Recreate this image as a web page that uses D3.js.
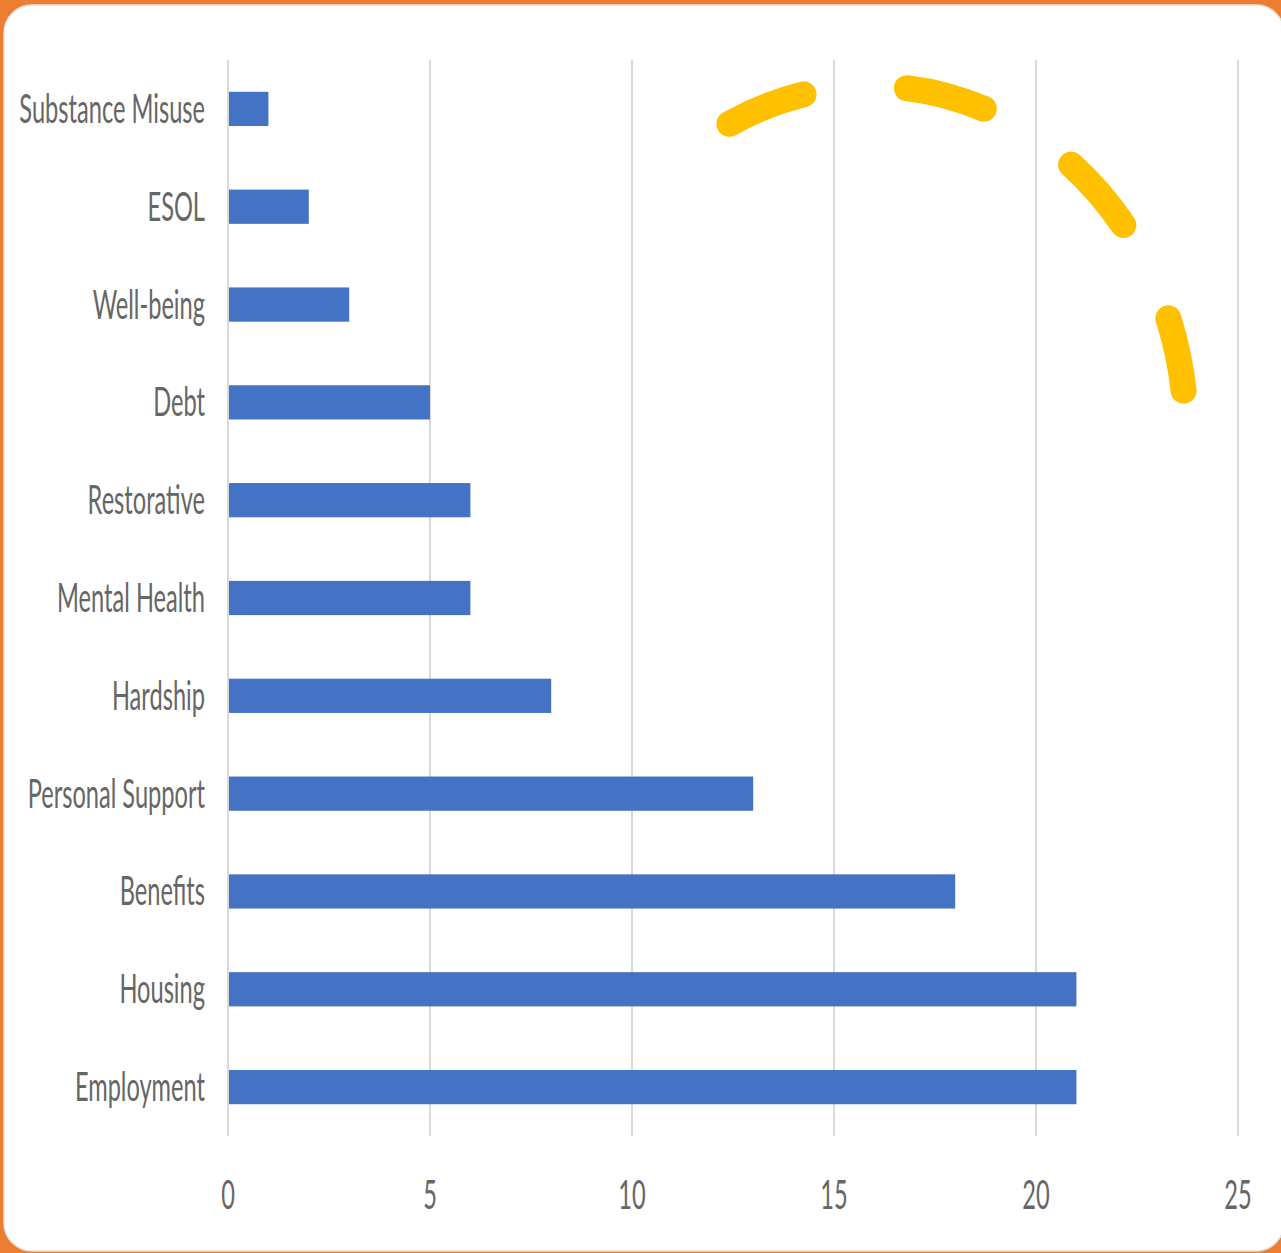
<!DOCTYPE html>
<html>
<head>
<meta charset="utf-8">
<script src="https://cdn.jsdelivr.net/npm/d3@7"></script>
<style>
  html, body { margin: 0; padding: 0; background: #ED7D31; }
  svg { display: block; }
</style>
</head>
<body>
<svg id="chart"></svg>
<script>
// bar chart data, top to bottom
var categories = ['Substance Misuse', 'ESOL', 'Well-being', 'Debt', 'Restorative',
    'Mental Health', 'Hardship', 'Personal Support', 'Benefits', 'Housing', 'Employment'];
var counts = [1, 2, 3, 5, 6, 6, 8, 13, 18, 21, 21];
var tickValues = [0, 5, 10, 15, 20, 25];

var svgWidth = 1281, svgHeight = 1253;
var svg = d3.select('#chart')
    .attr('width', svgWidth)
    .attr('height', svgHeight);

// white card on the orange page
svg.append('rect')
    .attr('x', 4).attr('y', 5)
    .attr('width', 1280).attr('height', 1246)
    .attr('rx', 28).attr('ry', 28)
    .attr('fill', '#ffffff')
    .attr('stroke', '#e4e4e4')
    .attr('stroke-width', 1.5);

var x = d3.scaleLinear().domain([0, 25]).range([228, 1238]);
var y = d3.scaleBand().domain(categories).range([60, 1136])
    .paddingInner(0.65).paddingOuter(0.325);

var data = categories.map(function(c, i) { return { name: c, value: counts[i] }; });

// gridlines
svg.append('g')
    .selectAll('line')
    .data(tickValues)
    .join('line')
    .attr('x1', function(d) { return x(d); })
    .attr('x2', function(d) { return x(d); })
    .attr('y1', 60)
    .attr('y2', 1136)
    .attr('stroke', '#d9d9d9')
    .attr('stroke-width', 2);

// bars
svg.append('g')
    .selectAll('rect')
    .data(data)
    .join('rect')
    .attr('x', x(0) + 1)
    .attr('y', function(d) { return y(d.name); })
    .attr('width', function(d) { return x(d.value) - x(0) - 1; })
    .attr('height', y.bandwidth())
    .attr('fill', '#4472C4');

// condensed look: scale text in a group
var sx = 0.875, sy = 1.5;
function label(parent, px, py, txt, anchor) {
    parent.append('g')
        .attr('transform', 'translate(' + px + ',' + py + ') scale(' + sx + ',' + sy + ')')
        .append('text')
        .attr('text-anchor', anchor)
        .attr('font-family', 'Lato, sans-serif')
        .attr('font-size', 27)
        .attr('fill', '#666666')
        .text(txt);
}

var yLabels = svg.append('g');
data.forEach(function(d) {
    label(yLabels, 205, y(d.name) + y.bandwidth() / 2 + 14, d.name, 'end');
});

var xLabels = svg.append('g');
tickValues.forEach(function(t) {
    label(xLabels, x(t), 1209, t, 'middle');
});

// yellow dashed arc annotation
var arc = { cx: 872, cy: 433, rx: 314, ry: 347, a0: -117, a1: -7 };
function pt(a) {
    var r = a * Math.PI / 180;
    return [arc.cx + arc.rx * Math.cos(r), arc.cy + arc.ry * Math.sin(r)];
}
var p0 = pt(arc.a0), p1 = pt(arc.a1);
svg.append('path')
    .attr('d', 'M' + p0[0] + ',' + p0[1] + ' A' + arc.rx + ',' + arc.ry + ' 0 0 1 ' + p1[0] + ',' + p1[1])
    .attr('fill', 'none')
    .attr('stroke', '#FFC000')
    .attr('stroke-width', 26)
    .attr('stroke-linecap', 'round')
    .attr('stroke-dasharray', '80 104');
</script>
</body>
</html>
